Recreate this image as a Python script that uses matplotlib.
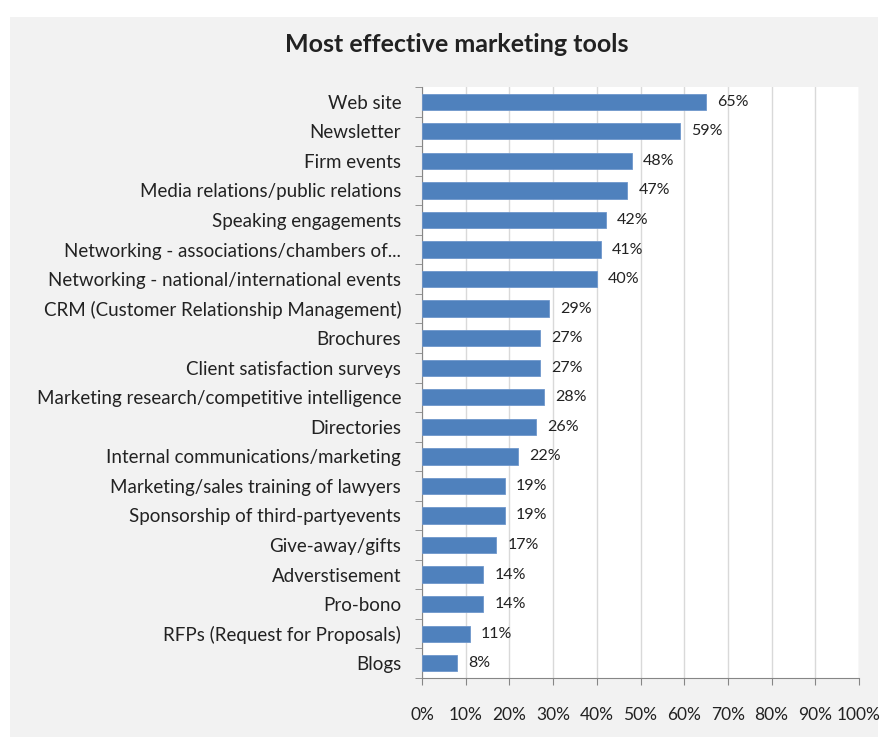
import matplotlib.pyplot as plt
from matplotlib.patches import Rectangle

plt.rcParams['font.family'] = ['Lato', 'DejaVu Sans']

# Daten
tools = ['Web site', 'Newsletter', 'Firm events', 'Media relations/public relations',
         'Speaking engagements', 'Networking - associations/chambers of...',
         'Networking - national/international events',
         'CRM (Customer Relationship Management)', 'Brochures',
         'Client satisfaction surveys', 'Marketing research/competitive intelligence',
         'Directories', 'Internal communications/marketing',
         'Marketing/sales training of lawyers', 'Sponsorship of third-partyevents',
         'Give-away/gifts', 'Adverstisement', 'Pro-bono',
         'RFPs (Request for Proposals)', 'Blogs']
percent = [65, 59, 48, 47, 42, 41, 40, 29, 27, 27, 28, 26, 22, 19, 19, 17, 14, 14, 11, 8]
xticks = list(range(0, 101, 10))

fig = plt.figure(figsize=(8.91, 7.38), dpi=100)
fig.patch.set_facecolor('white')
# grauer Diagrammbereich
fig.patches.append(Rectangle((10 / 891, 1 - 737 / 738), 868 / 891, 720 / 738,
                             transform=fig.transFigure, facecolor='#f2f2f2',
                             edgecolor='none', zorder=-5))

ax = fig.add_axes([422 / 891, 1 - 678 / 738, 437 / 891, 591 / 738])
ax.set_zorder(2)
ax.set_facecolor('white')

y = list(range(len(tools)))
ax.barh(y, percent, height=0.55, color='#4f81bd', edgecolor='#6f97cc', linewidth=0.6, zorder=3)
for yi, v in zip(y, percent):
    ax.annotate(f'{v}%', (v, yi), xytext=(8, 0), textcoords='offset points',
                va='center', ha='left', fontsize=11.5, color='#222222')

ax.set_ylim(len(tools) - 0.5, -0.5)
ax.set_xlim(0, 100)
ax.set_xticks(xticks)
ax.set_xticklabels([f'{t}%' for t in xticks], fontsize=12.5, color='#222222')
ax.set_yticks(y)
ax.set_yticklabels(tools, fontsize=13.5, color='#222222')
ax.set_yticks([i - 0.5 for i in range(len(tools) + 1)], minor=True)
ax.tick_params(axis='y', which='major', length=0, pad=15)
ax.tick_params(axis='y', which='minor', length=5, color='#868686', direction='out')
ax.tick_params(axis='x', length=5, color='#868686', pad=16)
ax.grid(axis='x', color='#d9d9d9', linewidth=1, zorder=0)
for s in ['top', 'right']:
    ax.spines[s].set_visible(False)
for s in ['left', 'bottom']:
    ax.spines[s].set_color('#868686')

fig.text(457 / 891, 1 - 45 / 738, 'Most effective marketing tools', ha='center', va='center',
         fontsize=18, fontweight='bold', color='#222222')

fig.savefig('out.png', dpi=100)
